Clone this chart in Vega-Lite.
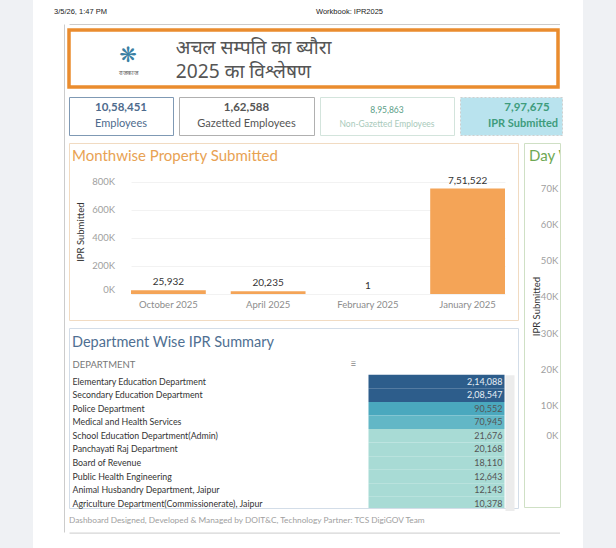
{
  "$schema": "https://vega.github.io/schema/vega-lite/v6.json",
  "background": "white",
  "padding": 0,
  "spacing": 0,
  "config": {
    "font": "Lato",
    "view": {"stroke": null},
    "locale": {"number": {"decimal": ".", "thousands": ",", "grouping": [3, 2], "currency": ["₹", ""]}},
    "title": {"fontWeight": "normal"},
    "axis": {"grid": false, "ticks": false, "domain": false, "tickSize": 0}
  },
  "datasets": {
    "kpis": [
      {"metric": "Employees", "count": 1058451},
      {"metric": "Gazetted Employees", "count": 162588},
      {"metric": "Non-Gazetted Employees", "count": 895863},
      {"metric": "IPR Submitted", "count": 797675}
    ],
    "monthwise": [
      {"month": "October 2025", "ipr": 25932},
      {"month": "April 2025", "ipr": 20235},
      {"month": "February 2025", "ipr": 1},
      {"month": "January 2025", "ipr": 751522}
    ],
    "departments": [
      {"department": "Elementary Education Department", "ipr": 214088},
      {"department": "Secondary Education Department", "ipr": 208547},
      {"department": "Police Department", "ipr": 90552},
      {"department": "Medical and Health Services", "ipr": 70945},
      {"department": "School Education Department(Admin)", "ipr": 21676},
      {"department": "Panchayati Raj Department", "ipr": 20168},
      {"department": "Board of Revenue", "ipr": 18110},
      {"department": "Public Health Engineering", "ipr": 12643},
      {"department": "Animal Husbandry Department, Jaipur", "ipr": 12143},
      {"department": "Agriculture Department(Commissionerate), Jaipur", "ipr": 10378}
    ]
  },
  "hconcat": [
    {"width": 33, "height": 548, "view": {"fill": "#eff1f4", "stroke": null}, "data": {"values": []}, "mark": "point"},
    {
      "spacing": 0,
      "vconcat": [
        {
          "width": 550, "height": 24,
          "data": {"values": [{"slot": "date", "label": "3/5/26, 1:47 PM"}, {"slot": "workbook", "label": "Workbook: IPR2025"}]},
          "mark": {"type": "text", "align": "left", "fontSize": 7.5, "font": "Liberation Sans", "color": "#222"},
          "encoding": {
            "x": {"field": "slot", "type": "nominal", "scale": {"type": "point", "domain": ["date", "workbook"], "range": [21, 283], "padding": 0}, "axis": null},
            "text": {"field": "label"}
          }
        },
        {
          "spacing": 0,
          "hconcat": [
            {"width": 31, "height": 10, "data": {"values": []}, "mark": "point"},
            {
              "width": 3, "height": 508,
              "data": {"values": []}, "mark": "point",
              "encoding": {"y": {"field": "v", "type": "quantitative", "scale": {"domain": [0, 1]}, "axis": {"labels": false, "domain": true, "domainColor": "#cccccc", "title": null}}}
            },
            {
              "spacing": 0,
              "vconcat": [
                {
                  "width": 490.5, "height": 4,
                  "data": {"values": []}, "mark": "point",
                  "encoding": {"x": {"field": "v", "type": "quantitative", "scale": {"domain": [0, 1]}, "axis": {"orient": "top", "labels": false, "domain": true, "domainColor": "#cccccc", "title": null}}}
                },
                {
                  "width": 489, "height": 57,
                  "view": {"stroke": "#ea8c2e", "strokeWidth": 3.5},
                  "data": {"values": [
                    {"part": "icon", "col": "logo", "row": "b", "text": "❋"},
                    {"part": "name", "col": "logo", "row": "c", "text": "राजकाज"},
                    {"part": "line1", "col": "title", "row": "a", "text": "अचल सम्पति का ब्यौरा"},
                    {"part": "line2", "col": "title", "row": "c", "text": "2025 का विश्लेषण"}
                  ]},
                  "encoding": {
                    "x": {"field": "col", "type": "nominal", "scale": {"type": "point", "domain": ["logo", "title"], "range": [59, 106.75], "padding": 0}, "axis": null},
                    "y": {"field": "row", "type": "nominal", "scale": {"type": "point", "domain": ["a", "b", "c"], "range": [17.5, 42], "padding": 0}, "axis": null},
                    "text": {"field": "text"}
                  },
                  "layer": [
                    {"transform": [{"filter": "datum.part === 'icon'"}], "mark": {"type": "text", "fontSize": 21, "dy": -3.5, "color": "#3a7fa3", "font": "DejaVu Sans"}},
                    {"transform": [{"filter": "datum.part === 'name'"}], "mark": {"type": "text", "fontSize": 6, "dy": 0.5, "color": "#555"}},
                    {"transform": [{"filter": "datum.col === 'title'"}], "mark": {"type": "text", "align": "left", "fontSize": 19.2, "color": "#555", "font": "Noto Sans"}}
                  ]
                },
                {"width": 10, "height": 6.5, "data": {"values": []}, "mark": "point"},
                {
                  "spacing": 4,
                  "hconcat": [
                    {
                      "width": 104, "height": 38,
                      "view": {"stroke": "#7f99b4"},
                      "data": {"name": "kpis"},
                      "transform": [{"filter": "datum.metric === 'Employees'"}],
                      "layer": [
                        {"mark": {"type": "text", "dy": -7.7, "fontSize": 11.5, "fontWeight": "bold", "color": "#4e6b8d"}, "encoding": {"text": {"field": "count", "format": ","}}},
                        {"mark": {"type": "text", "dy": 8.3, "fontSize": 11, "color": "#4e6b8d"}, "encoding": {"text": {"field": "metric"}}}
                      ]
                    },
                    {
                      "width": 135, "height": 38,
                      "view": {"stroke": "#b0b0b0"},
                      "data": {"name": "kpis"},
                      "transform": [{"filter": "datum.metric === 'Gazetted Employees'"}],
                      "layer": [
                        {"mark": {"type": "text", "dy": -7.7, "fontSize": 11.5, "fontWeight": "bold", "color": "#555"}, "encoding": {"text": {"field": "count", "format": ","}}},
                        {"mark": {"type": "text", "dy": 8.3, "fontSize": 11, "color": "#555"}, "encoding": {"text": {"field": "metric"}}}
                      ]
                    },
                    {
                      "width": 134, "height": 38,
                      "view": {"stroke": "#d3e4dc"},
                      "data": {"name": "kpis"},
                      "transform": [{"filter": "datum.metric === 'Non-Gazetted Employees'"}],
                      "layer": [
                        {"mark": {"type": "text", "dy": -6.5, "fontSize": 8.5, "color": "#5a9e86"}, "encoding": {"text": {"field": "count", "format": ","}}},
                        {"mark": {"type": "text", "dy": 7.5, "fontSize": 8.5, "color": "#a9cabb"}, "encoding": {"text": {"field": "metric"}}}
                      ]
                    },
                    {
                      "width": 102, "height": 38,
                      "view": {"fill": "#b9e3ee", "stroke": "#cfcfcf", "strokeDash": [2, 2]},
                      "data": {"name": "kpis"},
                      "transform": [{"filter": "datum.metric === 'IPR Submitted'"}],
                      "layer": [
                        {"mark": {"type": "text", "dy": -7.7, "dx": 16, "fontSize": 11.5, "fontWeight": "bold", "color": "#3e9c7c"}, "encoding": {"text": {"field": "count", "format": ","}}},
                        {"mark": {"type": "text", "dy": 8.3, "dx": 12, "fontSize": 11, "fontWeight": "bold", "color": "#3e9c7c"}, "encoding": {"text": {"field": "metric"}}}
                      ]
                    }
                  ]
                },
                {"width": 10, "height": 5.5, "data": {"values": []}, "mark": "point"},
                {
                  "spacing": 4,
                  "hconcat": [
                    {
                      "spacing": 6,
                      "vconcat": [
                        {
                          "width": 449, "height": 177,
                          "view": {"stroke": "#f1dbc2"},
                          "title": {"text": "Monthwise Property Submitted", "anchor": "start", "frame": "group", "offset": -27.7, "dx": 3, "fontSize": 15, "color": "#e8a253", "baseline": "middle"},
                          "data": {"name": "monthwise"},
                          "encoding": {
                            "x": {"field": "month", "type": "nominal", "sort": null,
                              "scale": {"type": "band", "range": [62, 436], "paddingInner": 0.25, "paddingOuter": 0},
                              "axis": {"orient": "bottom", "offset": -20, "labelPadding": 4, "labelBaseline": "middle", "labelFontSize": 9.5, "labelColor": "#8c8c8c", "labelAngle": 0, "title": null}},
                            "y": {"field": "ipr", "type": "quantitative",
                              "scale": {"domain": [0, 800000], "range": [151, 38.7], "nice": false, "zero": true},
                              "axis": {"offset": -48, "values": [0, 200000, 400000, 600000, 800000], "labelExpr": "datum.value / 1000 + 'K'", "labelPadding": 2.5, "labelFontSize": 9.5, "labelColor": "#a0a0a0", "grid": true, "gridColor": "#f2f2f2",
                                "labelOffset": {"condition": {"test": "datum.value === 0", "value": -5}, "value": 0},
                                "title": "IPR Submitted", "titleX": -37, "titleY": 88.7, "titleAngle": -90, "titleAlign": "center", "titleBaseline": "middle", "titleFontSize": 9.5, "titleColor": "#333", "titleFontWeight": "normal"}}
                          },
                          "layer": [
                            {"mark": {"type": "bar", "color": "#f4a457"}},
                            {"mark": {"type": "text", "baseline": "bottom", "dy": -3, "fontSize": 10, "color": "#333"}, "encoding": {"text": {"field": "ipr", "format": ","}}}
                          ]
                        },
                        {
                          "width": 449, "height": 180,
                          "view": {"stroke": "#d3dde8"},
                          "title": {"text": "Department Wise IPR Summary", "anchor": "start", "frame": "group", "offset": -29.2, "dx": 3, "fontSize": 14.5, "color": "#4f6f92", "baseline": "middle"},
                          "data": {"name": "departments"},
                          "resolve": {"axis": {"y": "independent"}},
                          "encoding": {
                            "y": {"field": "department", "type": "nominal", "sort": null,
                              "scale": {"type": "band", "range": [46.8, 182.4], "paddingInner": 0, "paddingOuter": 0}}
                          },
                          "layer": [
                            {"mark": {"type": "rect", "clip": true},
                              "encoding": {
                                "y": {"field": "department", "type": "nominal", "sort": null,
                                  "axis": {"orient": "left", "offset": -3, "labelAlign": "left", "labelPadding": 0, "labelFontSize": 8.8, "labelColor": "#333", "labelLimit": 300,
                                    "title": "DEPARTMENT", "titleAngle": 0, "titleAlign": "left", "titleBaseline": "middle", "titleX": 0, "titleY": 36.8, "titleFontSize": 9.5, "titleFontWeight": "normal", "titleColor": "#777"}},
                                "x": {"datum": "IPR Submitted", "type": "nominal", "scale": {"type": "band", "range": [299.5, 435.5], "paddingInner": 0, "paddingOuter": 0},
                                  "axis": {"orient": "top", "labels": false, "title": "≡", "titleX": 284, "titleY": 35.5, "titleAngle": 0, "titleAlign": "center", "titleBaseline": "middle", "titleFontSize": 10, "titleFontWeight": "normal", "titleColor": "#888"}},
                                "color": {"field": "ipr", "type": "quantitative", "scale": {"type": "quantize", "domain": [0, 214088], "range": ["#a8dbd5", "#62b7c6", "#4aa8be", "#3b84a9", "#2d5d8b"]}, "legend": null}
                              }},
                            {"mark": {"type": "text", "align": "right", "dx": -2, "fontSize": 9},
                              "encoding": {
                                "y": {"field": "department", "type": "nominal", "sort": null,
                                  "axis": {"orient": "right", "offset": -8.5, "labels": false, "domain": true, "domainWidth": 9, "domainColor": "#ececec", "title": null}},
                                "x": {"datum": "IPR Submitted", "type": "nominal", "bandPosition": 1},
                                "text": {"field": "ipr", "format": ","},
                                "color": {"condition": {"test": "datum.ipr > 150000", "value": "#e6eef5"}, "value": "#555"}
                              }}
                          ]
                        }
                      ]
                    },
                    {
                      "width": 36, "height": 364,
                      "view": {"stroke": "#cfe0c5"},
                      "resolve": {"scale": {"x": "independent", "y": "independent"}},
                      "layer": [
                        {
                          "data": {"values": []},
                          "mark": "bar",
                          "encoding": {
                            "y": {"field": "ipr", "type": "quantitative",
                              "scale": {"domain": [0, 70000], "range": [298.7, 45.3], "nice": false},
                              "axis": {"offset": -36, "values": [0, 10000, 20000, 30000, 40000, 50000, 60000, 70000], "labelExpr": "datum.value / 1000 + 'K'", "labelPadding": 2.3, "labelFontSize": 9.5, "labelColor": "#a0a0a0",
                                "labelOffset": {"condition": {"test": "datum.value === 0", "value": -6.5}, "value": 0},
                                "title": "IPR Submitted", "titleX": -24, "titleY": 163, "titleAngle": -90, "titleAlign": "center", "titleBaseline": "middle", "titleFontSize": 9.5, "titleColor": "#333", "titleFontWeight": "normal"}}
                          }
                        },
                        {
                          "data": {"values": [{"title": "Day W"}]},
                          "mark": {"type": "text", "align": "left", "baseline": "middle", "clip": true, "dx": 5, "fontSize": 15, "color": "#6ea853"},
                          "encoding": {
                            "x": {"datum": "title", "type": "nominal", "bandPosition": 0, "scale": {"type": "band", "paddingInner": 0, "paddingOuter": 0}, "axis": null},
                            "y": {"datum": "title", "type": "nominal", "scale": {"type": "point", "range": [13, 13]}, "axis": null},
                            "text": {"field": "title"}
                          }
                        }
                      ]
                    }
                  ]
                },
                {
                  "width": 490.5, "height": 22.6,
                  "data": {"values": [{"credit": "Dashboard Designed, Developed & Managed by DOIT&C, Technology Partner: TCS DigiGOV Team"}]},
                  "mark": {"type": "text", "align": "left", "fontSize": 8.3, "color": "#a0a0a0"},
                  "encoding": {
                    "x": {"datum": "credit", "type": "nominal", "bandPosition": 0, "scale": {"type": "band", "paddingInner": 0, "paddingOuter": 0}, "axis": {"orient": "bottom", "labels": false, "domain": true, "domainColor": "#cccccc", "title": null}},
                    "text": {"field": "credit"}
                  }
                }
              ]
            }
          ]
        }
      ]
    },
    {"width": 33, "height": 548, "view": {"fill": "#eff1f4", "stroke": null}, "data": {"values": []}, "mark": "point"}
  ]
}
